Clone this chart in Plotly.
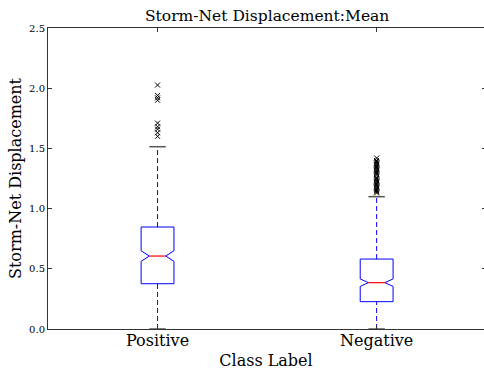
import plotly.graph_objects as go

# Summary statistics per class (notched box plot)
classes = ["Positive", "Negative"]
positions = [0, 1]
q1 = [0.376, 0.227]
median = [0.606, 0.385]
q3 = [0.847, 0.581]
lower_whisker = [0.0, 0.0]
upper_whisker = [1.514, 1.099]
notch_half = [0.044, 0.031]

# Points beyond the upper whisker
pos_outliers = [2.026, 1.94, 1.92, 1.90, 1.71, 1.68, 1.66, 1.63, 1.60]
neg_outliers = [1.42, 1.40, 1.39, 1.38, 1.37, 1.36, 1.35, 1.34, 1.33, 1.32,
                1.31, 1.30, 1.29, 1.28, 1.26, 1.25, 1.24, 1.23, 1.22, 1.21,
                1.20, 1.19, 1.18, 1.17, 1.16, 1.15, 1.14, 1.13]

y_ticks = [0.0, 0.5, 1.0, 1.5, 2.0, 2.5]

BOX_W = 0.15      # full box width in x-data units
NOTCH_W = 0.5     # waist of the notch relative to the box width
FONT = "DejaVu Serif"

fig = go.Figure()

for i, p in enumerate(positions):
    hw = BOX_W / 2
    nw = hw * NOTCH_W
    lo, hi = median[i] - notch_half[i], median[i] + notch_half[i]
    # notched box outline
    bx = [p - hw, p - hw, p - nw, p - hw, p - hw, p + hw, p + hw, p + nw, p + hw, p + hw, p - hw]
    by = [q1[i], lo, median[i], hi, q3[i], q3[i], hi, median[i], lo, q1[i], q1[i]]
    fig.add_trace(go.Scatter(
        x=bx, y=by, mode="lines", line=dict(color="blue", width=1),
        showlegend=False, hoverinfo="skip"))
    # dashed whiskers
    fig.add_trace(go.Scatter(
        x=[p, p], y=[q3[i], upper_whisker[i]], mode="lines",
        line=dict(color="blue", width=1, dash="5px,3px"), showlegend=False))
    fig.add_trace(go.Scatter(
        x=[p, p], y=[lower_whisker[i], q1[i]], mode="lines",
        line=dict(color="blue", width=1, dash="5px,3px"), showlegend=False))
    # whisker caps
    half_cap = BOX_W / 4
    for v in (upper_whisker[i], lower_whisker[i]):
        fig.add_trace(go.Scatter(
            x=[p - half_cap, p + half_cap], y=[v, v], mode="lines",
            line=dict(color="#555555", width=1.5), showlegend=False))
    # red median across the notch waist
    fig.add_trace(go.Scatter(
        x=[p - nw, p + nw], y=[median[i], median[i]], mode="lines",
        line=dict(color="red", width=1.2), showlegend=False))

# Outliers
for p, pts in zip(positions, [pos_outliers, neg_outliers]):
    fig.add_trace(go.Scatter(
        x=[p] * len(pts), y=pts, mode="markers",
        marker=dict(symbol="x-thin", size=5, line=dict(color="black", width=1)),
        showlegend=False))

# Right-hand tick marks
fig.add_trace(go.Scatter(x=[None], y=[None], yaxis="y2", showlegend=False))

fig.update_layout(
    width=484, height=371,
    margin=dict(l=48, r=0, t=28, b=42),
    paper_bgcolor="white", plot_bgcolor="white",
    font=dict(family=FONT, color="black"),
    xaxis=dict(
        range=[-0.5, 1.49], tickvals=positions, ticktext=classes,
        showgrid=False, zeroline=False, showline=True, linecolor="#333333",
        linewidth=1, mirror="ticks", ticks="inside", ticklen=4,
        tickcolor="#333333", tickfont=dict(size=16, family=FONT),
        ticklabelstandoff=-3,
        title=dict(text="Class Label", font=dict(size=16, family=FONT), standoff=5),
    ),
    yaxis=dict(
        range=[0, 2.5], tickvals=y_ticks, tickformat=".1f",
        showgrid=False, zeroline=False, showline=True, linecolor="#333333",
        linewidth=1, ticks="inside", ticklen=4, tickcolor="#333333",
        tickfont=dict(size=10, family=FONT),
        title=dict(text="Storm-Net Displacement", font=dict(size=16, family=FONT), standoff=3),
    ),
    yaxis2=dict(
        range=[0, 2.5], tickvals=y_ticks, overlaying="y", side="right",
        showticklabels=False, showgrid=False, zeroline=False, showline=False,
        ticks="inside", ticklen=2, tickcolor="#333333",
    ),
    annotations=[dict(
        text="Storm-Net Displacement:Mean", xref="x", yref="paper",
        x=0.5, y=1, yanchor="bottom", showarrow=False, yshift=1,
        font=dict(size=15.5, family=FONT, color="black"),
    )],
)

fig.write_html("out.html")
